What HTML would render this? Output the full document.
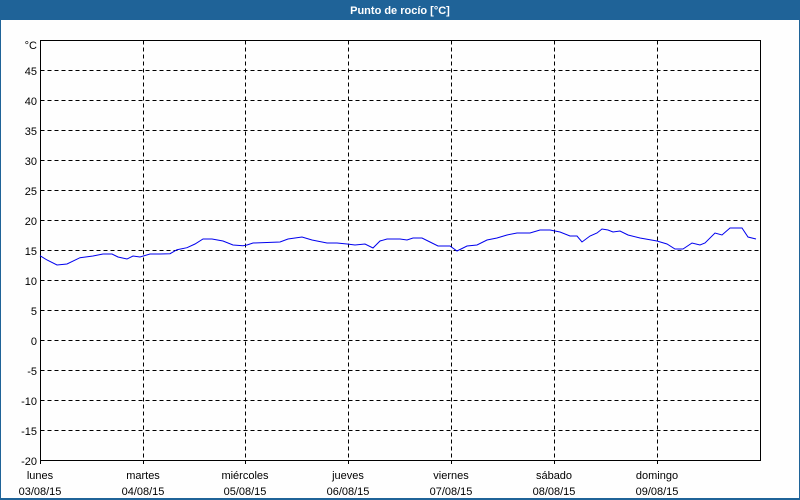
<!DOCTYPE html>
<html><head><meta charset="utf-8"><style>
body{margin:0;background:#fff;}
svg{display:block;font-family:"Liberation Sans",sans-serif;font-size:11px;}
</style></head><body>
<svg width="800" height="500" xmlns="http://www.w3.org/2000/svg">
<rect x="0" y="0" width="800" height="500" fill="#fefefe"/>
<rect x="0" y="0" width="800" height="20" fill="#1f6398"/>
<rect x="0" y="0" width="1" height="500" fill="#1f6398"/>
<rect x="799" y="0" width="1" height="500" fill="#1f6398"/>
<rect x="0" y="498" width="800" height="2" fill="#1f6398"/>
<text x="400" y="14" fill="#fff" font-weight="bold" font-size="11" text-anchor="middle">Punto de rocío [°C]</text>
<g stroke="#000" stroke-width="1" stroke-dasharray="4,3" fill="none">
<path d="M40.5 70.5H760.5M40.5 100.5H760.5M40.5 130.5H760.5M40.5 160.5H760.5M40.5 190.5H760.5M40.5 220.5H760.5M40.5 250.5H760.5M40.5 280.5H760.5M40.5 310.5H760.5M40.5 340.5H760.5M40.5 370.5H760.5M40.5 400.5H760.5M40.5 430.5H760.5"/>
<path d="M143.5 40.5V464M245.5 40.5V464M348.5 40.5V464M451.5 40.5V464M554.5 40.5V464M657.5 40.5V464"/>
</g>
<rect x="40.5" y="40.5" width="720" height="420" fill="none" stroke="#000"/>
<path d="M40.5 460v4" stroke="#000"/>
<polyline fill="none" stroke="#0000ee" stroke-width="1" points="40,255.7 47,260 57,265 67,264 80,257.7 93,256 103,254 112,254 118,257 127,259 133,256 140,257 150,254 160,254 170,253.7 177,249.7 187,247.7 195,244 203,239 212,239 223,241 233,245 243,245.7 247,245 253,243 280,242 288,239 302,237 312,240 327,243 337,243 347,244 355,245 365,244 373,248 380,241 387,239 400,239 407,240 413,238 422,238 430,242 438,246 447,246 450,246 457,251 467,246 477,245 487,240 497,238 507,235 517,233 530,233 540,230 550,230 560,232 570,236 577,236 582,242 590,236 597,233 602,229 608,230 613,232 620,231 628,235 640,238 657,241 667,244 675,249 683,249 692,243 700,245 705,243 715,233 722,235 730,228 742,228 748,237 756,239"/>
<g text-anchor="end" fill="#000">
<text x="37" y="49">°C</text>
<text x="37" y="75">45</text><text x="37" y="105">40</text><text x="37" y="135">35</text><text x="37" y="165">30</text>
<text x="37" y="195">25</text><text x="37" y="225">20</text><text x="37" y="255">15</text><text x="37" y="285">10</text>
<text x="37" y="315">5</text><text x="37" y="345">0</text><text x="37" y="375">-5</text><text x="37" y="405">-10</text>
<text x="37" y="435">-15</text><text x="37" y="465">-20</text>
</g>
<g text-anchor="middle" fill="#000">
<text x="40" y="479">lunes</text><text x="40" y="495">03/08/15</text>
<text x="143" y="479">martes</text><text x="143" y="495">04/08/15</text>
<text x="245" y="479">miércoles</text><text x="245" y="495">05/08/15</text>
<text x="348" y="479">jueves</text><text x="348" y="495">06/08/15</text>
<text x="451" y="479">viernes</text><text x="451" y="495">07/08/15</text>
<text x="554" y="479">sábado</text><text x="554" y="495">08/08/15</text>
<text x="657" y="479">domingo</text><text x="657" y="495">09/08/15</text>
</g>
</svg>
</body></html>
